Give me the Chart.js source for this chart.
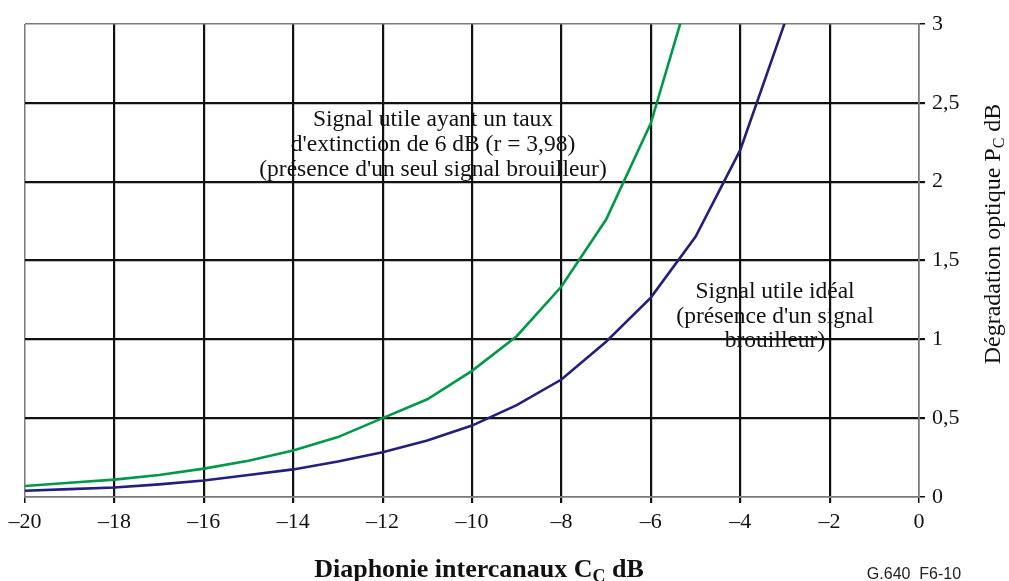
<!DOCTYPE html>
<html>
<head>
<meta charset="utf-8">
<script src="https://cdn.jsdelivr.net/npm/chart.js@4.4.0/dist/chart.umd.min.js"></script>
<style>
  html, body { margin: 0; padding: 0; background: #fff; }
  #wrap { width: 1009px; height: 581px; position: relative; }
</style>
</head>
<body>
<div id="wrap"><canvas id="chart" width="1009" height="581"></canvas></div>
<script>
// diaphonie (dB) et dégradation (dB)
const xGreen = [-20, -19, -18, -17, -16, -15, -14, -13, -12, -11, -10, -9, -8, -7, -6, -5];
const yGreen = [0.07, 0.09, 0.11, 0.14, 0.18, 0.23, 0.295, 0.38, 0.50, 0.62, 0.80, 1.02, 1.335, 1.76, 2.37, 3.33];
const xBlue = [-20, -19, -18, -17, -16, -15, -14, -13, -12, -11, -10, -9, -8, -7, -6, -5, -4, -3];
const yBlue = [0.04, 0.05, 0.06, 0.08, 0.105, 0.14, 0.175, 0.225, 0.284, 0.358, 0.453, 0.583, 0.745, 0.985, 1.265, 1.65, 2.2, 3.01];
const xTicks = [-20, -18, -16, -14, -12, -10, -8, -6, -4, -2, 0];
const yTicks = [0, 0.5, 1, 1.5, 2, 2.5, 3];

const serif = '"Liberation Serif", "DejaVu Serif", serif';
const EDGE = '#7a7a7a';

function pts(xs, ys) { return xs.map((x, i) => ({ x: x, y: ys[i] })); }

// textes : titres d'axes avec indice, annotations, référence
const textPlugin = {
  id: 'texts',
  afterDraw(chart) {
    const ctx = chart.ctx;
    ctx.save();
    ctx.fillStyle = '#111';
    ctx.textBaseline = 'alphabetic';

    // titre axe X
    const big = 'bold 26px ' + serif, small = 'bold 18px ' + serif;
    ctx.font = big;
    const a = 'Diaphonie intercanaux C', c = ' dB';
    const wa = ctx.measureText(a).width, wc = ctx.measureText(c).width;
    ctx.font = small;
    const wb = ctx.measureText('C').width;
    let x0 = 479 - (wa + wb + wc) / 2;
    ctx.textAlign = 'left';
    ctx.font = big; ctx.fillText(a, x0, 577);
    ctx.font = small; ctx.fillText('C', x0 + wa, 582);
    ctx.font = big; ctx.fillText(c, x0 + wa + wb, 577);

    // titre axe Y (droite)
    ctx.save();
    ctx.translate(1000, 234);
    ctx.rotate(-Math.PI / 2);
    const f1 = '24px ' + serif, f2 = '16px ' + serif;
    ctx.font = f1;
    const ya = 'Dégradation optique P', yc = ' dB';
    const ywa = ctx.measureText(ya).width, ywc = ctx.measureText(yc).width;
    ctx.font = f2;
    const ywb = ctx.measureText('C').width;
    let y0 = -(ywa + ywb + ywc) / 2;
    ctx.font = f1; ctx.fillText(ya, y0, 0);
    ctx.font = f2; ctx.fillText('C', y0 + ywa, 4);
    ctx.font = f1; ctx.fillText(yc, y0 + ywa + ywb, 0);
    ctx.restore();

    // annotations
    ctx.textAlign = 'center';
    ctx.font = '23.5px ' + serif;
    ['Signal utile ayant un taux', "d'extinction de 6 dB (r = 3,98)", "(présence d'un seul signal brouilleur)"]
      .forEach((t, i) => ctx.fillText(t, 433, 126 + i * 25));
    ['Signal utile idéal', "(présence d'un signal", 'brouilleur)']
      .forEach((t, i) => ctx.fillText(t, 775, 298 + i * 24.5));

    // référence
    ctx.font = '16px "Liberation Sans", Arial, sans-serif';
    ctx.fillStyle = '#222';
    ctx.fillText('G.640  F6-10', 914, 579);
    ctx.restore();
  }
};

new Chart(document.getElementById('chart'), {
  type: 'line',
  data: {
    datasets: [
      {
        label: 'Signal utile ayant un taux d\'extinction de 6 dB',
        data: pts(xGreen, yGreen),
        borderColor: '#00994a',
        borderWidth: 2.6,
        pointRadius: 0,
        tension: 0,
        clip: 0
      },
      {
        label: 'Signal utile idéal',
        data: pts(xBlue, yBlue),
        borderColor: '#231f7a',
        borderWidth: 2.6,
        pointRadius: 0,
        tension: 0,
        clip: 0
      }
    ]
  },
  options: {
    responsive: false,
    animation: false,
    layout: { padding: { left: 25, top: 24, right: 0, bottom: 0 } },
    plugins: { legend: { display: false }, tooltip: { enabled: false } },
    scales: {
      x: {
        type: 'linear',
        min: -20, max: 0,
        afterBuildTicks: s => { s.ticks = xTicks.map(v => ({ value: v })); },
        afterFit: s => { s.height = 84; },
        grid: {
          color: ctx => (ctx.tick && (ctx.tick.value === -20 || ctx.tick.value === 0)) ? EDGE : '#111',
          lineWidth: ctx => (ctx.tick && (ctx.tick.value === -20 || ctx.tick.value === 0)) ? 1.5 : 2.2,
          tickColor: '#111',
          tickLength: 6
        },
        border: { color: EDGE, width: 1.5 },
        ticks: {
          color: '#111',
          font: { family: serif, size: 22 },
          padding: 6,
          maxRotation: 0,
          callback: v => (v < 0 ? '\u2013' + Math.abs(v) : String(v))
        }
      },
      y: {
        type: 'linear',
        position: 'right',
        min: 0, max: 3,
        afterBuildTicks: s => { s.ticks = yTicks.map(v => ({ value: v })); },
        afterFit: s => { s.width = 90; },
        grid: {
          color: ctx => (ctx.tick && (ctx.tick.value === 0 || ctx.tick.value === 3)) ? EDGE : '#111',
          lineWidth: ctx => (ctx.tick && (ctx.tick.value === 0 || ctx.tick.value === 3)) ? 1.5 : 2.2,
          tickColor: '#111',
          tickLength: 6
        },
        border: { color: EDGE, width: 1.5 },
        ticks: {
          color: '#111',
          font: { family: serif, size: 22 },
          padding: 7,
          callback: v => String(v).replace('.', ',')
        }
      }
    }
  },
  plugins: [textPlugin]
});
</script>
</body>
</html>
